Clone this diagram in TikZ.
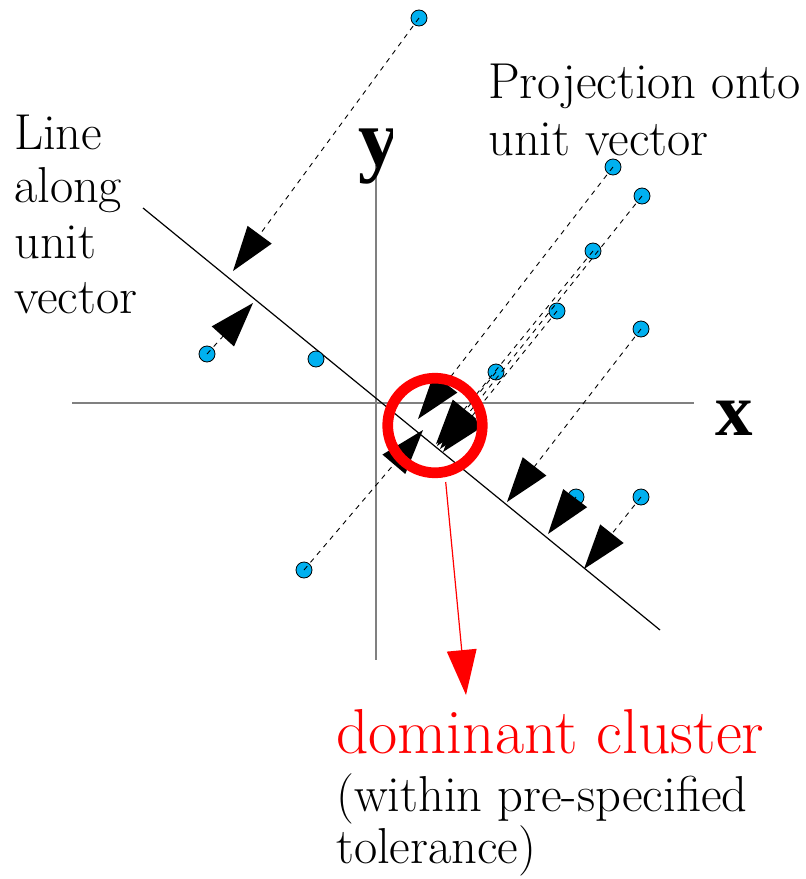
\documentclass[tikz,border=0pt]{standalone}
\usepackage{fontspec}
\newfontfamily\axfont{Liberation Serif}
\usetikzlibrary{calc}
\definecolor{ptblue}{RGB}{0,176,240}
\definecolor{axisgray}{RGB}{128,128,128}
\newcommand\arrhead[3]{%
  \coordinate (hb) at ($(#3)!45bp!(#2)$);
  \fill[#1] (#3) -- ($(hb)!15bp!90:(#3)$) -- ($(hb)!15bp!-90:(#3)$) -- cycle;}
\begin{document}
\begin{tikzpicture}[x=1bp,y=-1bp,
  pt/.style={circle,draw=black,fill=ptblue,line width=0.8bp,inner sep=0pt,minimum size=16bp},
  axisline/.style={draw=axisgray,line width=2bp},
  unitline/.style={draw=black,line width=1.2bp},
  projline/.style={draw=black,line width=0.9bp,dash pattern=on 5bp off 5bp},
  lbl/.style={inner sep=0pt,anchor=base west,font=\fontsize{50.5bp}{55bp}\selectfont},
  redlbl/.style={inner sep=0pt,anchor=base west,text=red,font=\fontsize{63.5bp}{70bp}\selectfont},
  axlbl/.style={inner sep=0pt,anchor=base west,font=\axfont\fontsize{82bp}{90bp}\selectfont\bfseries}]
\useasboundingbox (0,0) rectangle (806,879);
% axes
\coordinate (ya) at (376,165);
\coordinate (yb) at (376,660);
\coordinate (xa) at (72,403);
\coordinate (xb) at (694,403);
\draw[axisline] (ya) -- (yb);
\draw[axisline] (xa) -- (xb);
% line along unit vector
\coordinate (ua) at (143,208);
\coordinate (ub) at (660,630);
\draw[unitline] (ua) -- (ub);
% axis labels
\begin{scope}
  \clip (340,100) rectangle (392,200);
  \node[axlbl] (ylbl) at (358,166) {y};
\end{scope}
\node[axlbl,font=\axfont\fontsize{75bp}{80bp}\selectfont\bfseries] (xlbl) at (715,435) {x};
% data points
\node[pt] (p1) at (419,18) {};
\node[pt] (p2) at (207,354) {};
\node[pt] (p3) at (316,359) {};
\node[pt] (p4) at (613,167) {};
\node[pt] (p5) at (642,196) {};
\node[pt] (p6) at (593,251) {};
\node[pt] (p7) at (557,311) {};
\node[pt] (p8) at (496,372) {};
\node[pt] (p9) at (641,329) {};
\node[pt] (p10) at (576,497) {};
\node[pt] (p11) at (641,497) {};
\node[pt] (p12) at (304,570) {};
% projection feet
\coordinate (t1) at (233,271);
\coordinate (t2) at (253,303);
\coordinate (t4) at (418,419);
\coordinate (t5) at (440,449);
\coordinate (t6) at (436,444);
\coordinate (t7) at (443,452);
\coordinate (t8) at (437,446);
\coordinate (t9) at (507,502);
\coordinate (t10) at (548,534);
\coordinate (t11) at (584,569);
\coordinate (t12) at (423,430);
% dashed projection lines
\foreach \i in {1,2,4,5,6,7,8,9,10,11,12}{
  \draw[projline] (p\i.center) -- ($(t\i)!40bp!(p\i)$);
}
% arrowheads
\foreach \i in {1,2,4,5,6,7,8,9,10,11,12}{
  \arrhead{black}{p\i}{t\i}
}
% dominant cluster circle
\node[circle,draw=red,line width=10.7bp,minimum size=94.6bp,inner sep=0pt] (cl) at (435,425.5) {};
\coordinate (rs) at (445.7,482);
\coordinate (rt) at (466,695);
\draw[red,line width=1.2bp] (rs) -- ($(rt)!40bp!(rs)$);
\arrhead{red}{rs}{rt}
% texts
\node[lbl] (pr1) at (488,98) {Projection onto};
\node[lbl] (pr2) at (488,155) {unit vector};
\node[lbl] (la1) at (14,149) {Line};
\node[lbl] (la2) at (14,202) {along};
\node[lbl] (la3) at (14,258) {unit};
\node[lbl] (la4) at (14,313) {vector};
\node[redlbl] (dc) at (336,753) {dominant cluster};
\node[lbl] (dc2) at (336,811) {(within pre-specified};
\node[lbl] (dc3) at (336,863) {tolerance)};
\end{tikzpicture}
\end{document}
